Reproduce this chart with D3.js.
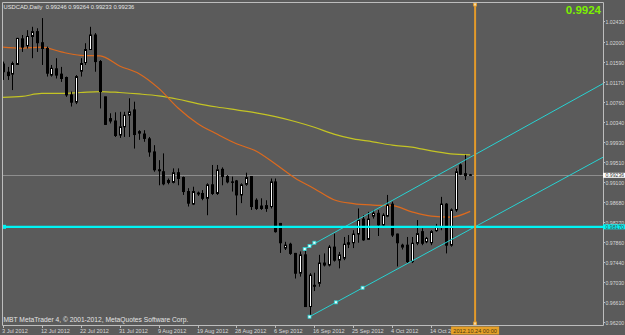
<!DOCTYPE html>
<html>
<head>
<meta charset="utf-8">
<script src="https://cdn.jsdelivr.net/npm/d3@7"></script>
<style>
  body { margin: 0; background: #5b5b5b; }
  svg { display: block; }
</style>
</head>
<body>
<div class="graph-usdcad"></div>
<script>
// donnees (USDCAD daily, 3 Jul -> 24 Oct 2012)
const opens = [1.0154,1.0137,1.0133,1.0153,1.0206,1.0192,1.0211,1.0221,1.0198,1.0186,
  1.0131,1.0144,1.0133,1.0126,1.0090,1.0075,1.0139,1.0157,1.0184,1.0214,
  1.0159,1.0086,1.0041,1.0036,1.0007,1.0024,1.0048,1.0059,1.0014,1.0009,
  0.9999,0.9972,0.9935,0.9931,0.9913,0.9909,0.9929,0.9919,0.9890,0.9864,
  0.9885,0.9886,0.9876,0.9904,0.9886,0.9936,0.9921,0.9910,0.9912,0.9883,
  0.9905,0.9921,0.9872,0.9860,0.9855,0.9859,0.9910,0.9824,0.9773,0.9781,
  0.9762,0.9721,0.9759,0.9652,0.9696,0.9700,0.9742,0.9738,0.9775,0.9748,
  0.9752,0.9784,0.9784,0.9802,0.9833,0.9791,0.9839,0.9845,0.9821,0.9839,
  0.9864,0.9802,0.9775,0.9779,0.9745,0.9783,0.9807,0.9786,0.9784,0.9809,
  0.9817,0.9864,0.9779,0.9852,0.9945,0.9927,0.99246];
const highs = [1.0159,1.0148,1.0159,1.0208,1.0214,1.0224,1.0231,1.0228,1.0249,1.0190,
  1.0152,1.0166,1.0148,1.0128,1.0097,1.0131,1.0166,1.0197,1.0231,1.0218,
  1.0162,1.0086,1.0052,1.0054,1.0055,1.0055,1.0083,1.0076,1.0017,1.0017,
  1.0003,0.9986,0.9955,0.9969,0.9917,0.9938,0.9938,0.9921,0.9897,0.9900,
  0.9890,0.9893,0.9907,0.9945,0.9945,0.9940,0.9924,0.9921,0.9914,0.9907,
  0.9929,0.9922,0.9876,0.9876,0.9872,0.9917,0.9917,0.9825,0.9786,0.9784,
  0.9763,0.9766,0.9769,0.9721,0.9722,0.9759,0.9762,0.9779,0.9803,0.9765,
  0.9796,0.9800,0.9810,0.9855,0.9841,0.9848,0.9852,0.9852,0.9845,0.9883,
  0.9869,0.9803,0.9782,0.9796,0.9796,0.9831,0.9814,0.9796,0.9810,0.9823,
  0.9879,0.9866,0.9855,0.9938,0.9948,0.9966,0.99264];
const lows = [1.0121,1.0121,1.0100,1.0152,1.0179,1.0186,1.0166,1.0179,1.0152,1.0128,
  1.0128,1.0124,1.0117,1.0086,1.0066,1.0071,1.0128,1.0152,1.0183,1.0138,
  1.0062,1.0028,1.0031,1.0003,1.0001,1.0003,1.0003,0.9979,0.9997,0.9993,
  0.9962,0.9931,0.9903,0.9903,0.9905,0.9907,0.9903,0.9883,0.9859,0.9862,
  0.9881,0.9872,0.9841,0.9883,0.9883,0.9903,0.9907,0.9890,0.9841,0.9866,
  0.9902,0.9852,0.9852,0.9852,0.9848,0.9855,0.9805,0.9763,0.9769,0.9759,
  0.9710,0.9714,0.9651,0.9631,0.9684,0.9693,0.9735,0.9735,0.9745,0.9731,
  0.9748,0.9773,0.9773,0.9784,0.9788,0.9790,0.9834,0.9798,0.9818,0.9837,
  0.9796,0.9735,0.9770,0.9741,0.9742,0.9779,0.9779,0.9783,0.9779,0.9807,
  0.9810,0.9762,0.9776,0.9848,0.9924,0.9914,0.99233];
const closes = [1.0138,1.0130,1.0155,1.0207,1.0189,1.0211,1.0221,1.0198,1.0186,1.0135,
  1.0145,1.0131,1.0124,1.0090,1.0075,1.0128,1.0155,1.0184,1.0214,1.0159,
  1.0097,1.0029,1.0036,1.0006,1.0024,1.0048,1.0055,1.0008,1.0011,1.0000,
  0.9972,0.9935,0.9933,0.9906,0.9909,0.9929,0.9917,0.9890,0.9866,0.9890,
  0.9887,0.9876,0.9904,0.9886,0.9935,0.9921,0.9910,0.9909,0.9883,0.9904,
  0.9919,0.9859,0.9855,0.9855,0.9861,0.9910,0.9807,0.9784,0.9779,0.9762,
  0.9721,0.9759,0.9652,0.9717,0.9694,0.9742,0.9738,0.9775,0.9748,0.9759,
  0.9781,0.9781,0.9802,0.9831,0.9790,0.9833,0.9845,0.9821,0.9841,0.9862,
  0.9800,0.9784,0.9779,0.9745,0.9783,0.9803,0.9783,0.9793,0.9807,0.9817,
  0.9864,0.9779,0.9852,0.9931,0.9926,0.9923,0.99236];

// moyennes mobiles (une valeur toutes les 4 bougies)
const maIdx = [0,4,8,12,16,20,24,28,32,36,40,44,48,52,56,60,64,68,72,76,80,84,88,92,96];
const maOrange = [1.0189,1.0187,1.0189,1.0179,1.0172,1.0171,1.0150,1.0134,1.0104,1.0063,
  1.0031,1.0009,0.9989,0.9974,0.9947,0.9918,0.9896,0.9873,0.9865,0.9862,
  0.9861,0.9848,0.9839,0.9837,0.9849];
const maYellow = [1.0085,1.0087,1.0093,1.0093,1.0095,1.0097,1.0095,1.0092,1.0088,1.0081,
  1.0072,1.0065,1.0059,1.0053,1.0045,1.0035,1.0023,1.0009,0.9999,0.9993,
  0.9986,0.9982,0.9974,0.9968,0.9966];

// axes
const priceTicks = [1.02430,1.02000,1.01590,1.01170,1.00760,1.00340,0.99930,0.99510,
  0.99100,0.98680,0.98270,0.97860,0.97440,0.97030,0.96610,0.96200];
const dateTickIdx = [0,8,16,24,32,40,48,56,64,72,80,88];
const dateTickLabels = ["3 Jul 2012","12 Jul 2012","22 Jul 2012","31 Jul 2012","9 Aug 2012",
  "19 Aug 2012","28 Aug 2012","6 Sep 2012","16 Sep 2012","25 Sep 2012","4 Oct 2012","14 Oct 2012"];

// objets traces
const bidPrice = 0.99236;
const hLinePrice = 0.98170;
const vLineIdx = 97;
const vLineLabel = "2012.10.24 00:00";
const chanUpper = [[62, 0.97710], [97, 0.99666]];
const chanLower = [[63, 0.96309], [97, 0.98172]];
const upperMarks = [[62, 0.97710], [63, 0.97772], [64, 0.97841]];
const lowerMarks = [[63, 0.96309], [68.4, 0.96607], [73.9, 0.96909]];

const W = 625, H = 335;
let margin = { left: 2, right: 603, top: 2, bottom: 325 };
const font = "'Liberation Sans', Arial, sans-serif";

let svg = d3.select(".graph-usdcad")
  .append("svg")
  .attr("width", W)
  .attr("height", H);

svg.append("rect").attr("width", W).attr("height", H).attr("fill", "#5b5b5b");

// echelles
let x = d3.scaleLinear().domain([0, 97]).range([2.7, 475.1]);
let y = d3.scaleLinear().domain([0.9620, 1.0243]).range([322, 21]);

// clip de la zone du graphique
svg.append("clipPath").attr("id", "zone")
  .append("rect").attr("x", margin.left).attr("y", margin.top)
  .attr("width", margin.right - margin.left).attr("height", margin.bottom - margin.top);
let plot = svg.append("g").attr("clip-path", "url(#zone)");

// ligne du prix courant
const bidY = Math.round(y(bidPrice)) + 0.5;
plot.append("line")
  .attr("x1", margin.left).attr("x2", margin.right)
  .attr("y1", bidY).attr("y2", bidY)
  .attr("stroke", "#8e8e8e").attr("stroke-width", 1);

// moyennes mobiles
const maLine = vals => d3.line()
  .x(d => x(d))
  .y((d, i) => y(vals[i]))
  .curve(d3.curveMonotoneX)(maIdx);

plot.append("path").attr("d", maLine(maYellow))
  .attr("fill", "none").attr("stroke", "#c4c424").attr("stroke-width", 1.2);
plot.append("path").attr("d", maLine(maOrange))
  .attr("fill", "none").attr("stroke", "#dc6a1e").attr("stroke-width", 1.2);

// bougies
const candles = opens.map((o, i) => ({ i: i, o: o, h: highs[i], l: lows[i], c: closes[i] }));

let cg = plot.append("g");
cg.selectAll("line.wick")
  .data(candles)
  .enter()
  .append("line")
  .attr("class", "wick")
  .attr("x1", d => Math.round(x(d.i)) + 0.5)
  .attr("x2", d => Math.round(x(d.i)) + 0.5)
  .attr("y1", d => y(d.h))
  .attr("y2", d => y(d.l))
  .attr("stroke", "#000")
  .attr("stroke-width", 1);

cg.selectAll("rect.body")
  .data(candles)
  .enter()
  .append("rect")
  .attr("class", "body")
  .attr("x", d => Math.round(x(d.i)) - 0.5)
  .attr("width", 2)
  .attr("y", d => y(Math.max(d.o, d.c)))
  .attr("height", d => Math.max(0.01, Math.abs(y(d.o) - y(d.c))))
  .attr("fill", d => d.c >= d.o ? "#fff" : "#000")
  .attr("stroke", "#000")
  .attr("stroke-width", 1);

// canal (deux droites prolongees jusqu'au bord droit)
const ray = seg => {
  const [a, b] = seg;
  const slope = (b[1] - a[1]) / (b[0] - a[0]);
  const endIdx = x.invert(margin.right + 5);
  return [[x(a[0]), y(a[1])], [x(endIdx), y(a[1] + slope * (endIdx - a[0]))]];
};
[chanUpper, chanLower].forEach(seg => {
  plot.append("path")
    .attr("d", d3.line()(ray(seg)))
    .attr("stroke", "#27d2d2").attr("stroke-width", 1).attr("fill", "none");
});
plot.selectAll("rect.mark")
  .data(upperMarks.concat(lowerMarks))
  .enter()
  .append("rect")
  .attr("class", "mark")
  .attr("x", d => x(d[0]) - 1.5).attr("y", d => y(d[1]) - 1.5)
  .attr("width", 3).attr("height", 3)
  .attr("fill", "#e8ffff").attr("stroke", "#27d2d2").attr("stroke-width", 0.8);

// ligne horizontale cyan
plot.append("line")
  .attr("x1", margin.left).attr("x2", margin.right)
  .attr("y1", y(hLinePrice)).attr("y2", y(hLinePrice))
  .attr("stroke", "#00f4f4").attr("stroke-width", 2.2);
plot.append("rect")
  .attr("x", 2).attr("y", y(hLinePrice) - 2).attr("width", 4).attr("height", 4)
  .attr("fill", "#00f4f4");

// ligne verticale orange
plot.append("line")
  .attr("x1", x(vLineIdx)).attr("x2", x(vLineIdx))
  .attr("y1", margin.top).attr("y2", margin.bottom)
  .attr("stroke", "#e39a2a").attr("stroke-width", 2);
[margin.top + 1, margin.bottom - 3].forEach(yy => {
  plot.append("rect")
    .attr("x", x(vLineIdx) - 1.5).attr("y", yy).attr("width", 3).attr("height", 3)
    .attr("fill", "#f6d9a0").attr("stroke", "#e39a2a").attr("stroke-width", 0.8);
});

// cadre
svg.append("path")
  .attr("d", `M${margin.left + 0.5},${margin.bottom + 0.5}V${margin.top + 0.5}H${margin.right + 0.5}V${margin.bottom + 0.5}H${margin.left + 0.5}`)
  .attr("fill", "none").attr("stroke", "#bdbdbd").attr("stroke-width", 1);

// axe des prix
let yAxis = svg.append("g");
priceTicks.forEach(p => {
  const yy = Math.round(y(p)) + 0.5;
  yAxis.append("line").attr("x1", margin.right).attr("x2", margin.right + 2).attr("y1", yy).attr("y2", yy)
    .attr("stroke", "#bdbdbd");
  yAxis.append("text").text(p.toFixed(5))
    .attr("x", margin.right + 2.5).attr("y", yy + 2)
    .style("font-size", "5.2px").style("font-family", font).style("fill", "#d8d8d8");
});

// etiquettes de prix (courant et ligne horizontale)
const priceTag = (p, bg, fg) => {
  const yy = y(p);
  svg.append("rect").attr("x", margin.right).attr("y", yy - 2.5).attr("width", W - margin.right).attr("height", 5)
    .attr("fill", bg);
  svg.append("text").text(p.toFixed(5))
    .attr("x", margin.right + 2.5).attr("y", yy + 2)
    .style("font-size", "5.2px").style("font-family", font).style("fill", fg);
};
priceTag(bidPrice, "#ffffff", "#303030");
priceTag(hLinePrice, "#00f4f4", "#4a4a4a");

// axe du temps
let xAxis = svg.append("g");
dateTickIdx.forEach((d, i) => {
  const xx = Math.round(x(d)) + 0.5;
  xAxis.append("line").attr("x1", xx).attr("x2", xx).attr("y1", margin.bottom).attr("y2", margin.bottom + 3)
    .attr("stroke", "#bdbdbd");
  xAxis.append("text").text(dateTickLabels[i])
    .attr("x", xx - 1.5).attr("y", 333)
    .style("font-size", "5.6px").style("font-family", font).style("fill", "#d8d8d8");
});
xAxis.append("rect")
  .attr("x", x(vLineIdx) - 24).attr("y", 326.5).attr("width", 48).attr("height", 8)
  .attr("fill", "#e6a028");
xAxis.append("text").text(vLineLabel)
  .attr("x", x(vLineIdx)).attr("y", 333)
  .attr("text-anchor", "middle")
  .style("font-size", "5.6px").style("font-family", font).style("fill", "#4a3a10");

// textes
svg.append("text")
  .text("USDCAD,Daily  0.99246 0.99264 0.99233 0.99236")
  .attr("x", 3.5).attr("y", 9)
  .attr("xml:space", "preserve")
  .style("font-size", "5.8px").style("font-family", font).style("fill", "#e4e4e4");

svg.append("text")
  .text("0.9924")
  .attr("x", 601).attr("y", 14)
  .attr("text-anchor", "end")
  .style("font-size", "11.5px").style("font-weight", "bold")
  .style("font-family", font).style("fill", "#7cf000");

svg.append("text")
  .text("MBT MetaTrader 4, \u00a9 2001-2012, MetaQuotes Software Corp.")
  .attr("x", 3.5).attr("y", 322)
  .style("font-size", "6.7px").style("font-family", font).style("fill", "#e4e4e4");
</script>
</body>
</html>
